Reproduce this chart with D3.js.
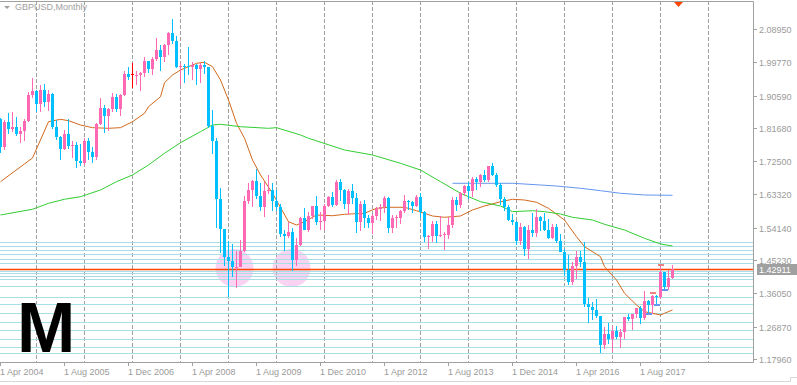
<!DOCTYPE html>
<html>
<head>
<meta charset="utf-8">
<script src="https://cdn.jsdelivr.net/npm/d3@7/dist/d3.min.js"></script>
<style>
  body { margin: 0; background: #fff; }
  svg { display: block; font-family: "Liberation Sans", Arial, sans-serif; }
</style>
</head>
<body>
<svg id="chart" width="797" height="385"></svg>
<script>
// GBPUSD monthly, Apr 2004 .. Apr 2018 (one value per month)
var symbolTitle = 'GBPUSD,Monthly';
var firstMonth = '1 Apr 2004';
var bidPrice = 1.42911;

var opens = [
   1.8405, 1.7650, 1.8340, 1.8140, 1.8190, 1.8000, 1.8095, 1.8370, 1.9080,
   1.9180, 1.8830, 1.9220, 1.8890, 1.9105, 1.8190, 1.7920, 1.7580, 1.8010, 1.7660, 1.7710, 1.7260,
   1.7210, 1.7795, 1.7500, 1.7360, 1.8270, 1.8710, 1.8490, 1.8680, 1.9030, 1.8700, 1.9080, 1.9660,
   1.9655, 1.9615, 1.9640, 1.9680, 2.0000, 1.9790, 2.0060, 2.0310, 2.0130, 2.0460, 2.0790, 2.0560,
   1.9850, 1.9880, 1.9870, 1.9850, 1.9900, 1.9790, 1.9910, 1.9840, 1.8210, 1.7800, 1.6200, 1.5380,
   1.4600, 1.4500, 1.4320, 1.4340, 1.4780, 1.6160, 1.6450, 1.6700, 1.6280, 1.5990, 1.6440, 1.6450,
   1.6150, 1.5990, 1.5230, 1.5180, 1.5290, 1.4520, 1.4950, 1.5680, 1.5340, 1.5730, 1.6020, 1.5570,
   1.5600, 1.6020, 1.6260, 1.6040, 1.6690, 1.6460, 1.6060, 1.6430, 1.6240, 1.5580, 1.6080, 1.5690,
   1.5540, 1.5750, 1.5920, 1.5990, 1.6240, 1.5420, 1.5680, 1.5680, 1.5880, 1.6160, 1.6130, 1.6020,
   1.6250, 1.5860, 1.5160, 1.5190, 1.5530, 1.5190, 1.5210, 1.5210, 1.5490, 1.6190, 1.6040, 1.6360,
   1.6560, 1.6440, 1.6750, 1.6670, 1.6880, 1.6740, 1.7110, 1.6880, 1.6600, 1.6210, 1.5990, 1.5640,
   1.5580, 1.5050, 1.5440, 1.4820, 1.5350, 1.5280, 1.5720, 1.5610, 1.5360, 1.5120, 1.5440, 1.5050,
   1.4740, 1.4240, 1.3920, 1.4370, 1.4610, 1.4480, 1.3310, 1.3230, 1.3140, 1.2980, 1.2190, 1.2480,
   1.2340, 1.2580, 1.2410, 1.2550, 1.2950, 1.2890, 1.3025, 1.3200, 1.2930, 1.3400, 1.3280, 1.3520,
   1.3510, 1.4190, 1.3770, 1.4020
];
var highs = [
   1.8440, 1.8380, 1.8590, 1.8620, 1.8480, 1.8200, 1.8420, 1.9160, 1.9550,
   1.9220, 1.9340, 1.9380, 1.9225, 1.9125, 1.8390, 1.7950, 1.8120, 1.8400, 1.7810, 1.7780, 1.7730,
   1.7880, 1.7880, 1.7640, 1.8300, 1.9000, 1.8810, 1.8730, 1.9120, 1.9100, 1.9090, 1.9730, 1.9850,
   1.9950, 1.9740, 1.9700, 2.0135, 2.0010, 2.0130, 2.0655, 2.0450, 2.0485, 2.0810, 2.1160, 2.0700,
   1.9950, 1.9920, 2.0395, 1.9990, 1.9930, 1.9950, 2.0000, 1.9860, 1.8650, 1.7880, 1.6520, 1.5390,
   1.5060, 1.4980, 1.4780, 1.5080, 1.6280, 1.6660, 1.6740, 1.7040, 1.6660, 1.6690, 1.6880, 1.6650,
   1.6460, 1.6060, 1.5360, 1.5570, 1.5400, 1.5130, 1.5720, 1.5960, 1.5840, 1.6020, 1.6300, 1.5840,
   1.6060, 1.6280, 1.6400, 1.6740, 1.6750, 1.6480, 1.6470, 1.6620, 1.6370, 1.6140, 1.6170, 1.5780,
   1.5800, 1.5990, 1.6060, 1.6300, 1.6260, 1.5780, 1.5780, 1.5910, 1.6310, 1.6180, 1.6150, 1.6310,
   1.6380, 1.5870, 1.5220, 1.5600, 1.5600, 1.5750, 1.5300, 1.5720, 1.6260, 1.6260, 1.6390, 1.6600,
   1.6670, 1.6820, 1.6820, 1.6900, 1.7000, 1.7110, 1.7190, 1.6920, 1.6650, 1.6250, 1.6030, 1.5790,
   1.5590, 1.5550, 1.5470, 1.5500, 1.5820, 1.5930, 1.5750, 1.5820, 1.5660, 1.5510, 1.5510, 1.5240,
   1.4820, 1.4670, 1.4460, 1.4770, 1.4770, 1.5020, 1.3480, 1.3370, 1.3450, 1.2990, 1.2670, 1.2780,
   1.2710, 1.2710, 1.2620, 1.2960, 1.3050, 1.3030, 1.3210, 1.3270, 1.3660, 1.3410, 1.3550, 1.3550,
   1.4345, 1.4200, 1.4245, 1.4376
];
var lows = [
   1.7475, 1.7565, 1.8010, 1.8060, 1.7935, 1.7745, 1.7820, 1.8320, 1.9000,
   1.8620, 1.8620, 1.8745, 1.8625, 1.8150, 1.7825, 1.7285, 1.7560, 1.7600, 1.7330, 1.7065, 1.7125,
   1.7145, 1.7275, 1.7200, 1.7280, 1.8240, 1.8030, 1.8090, 1.8600, 1.8600, 1.8500, 1.9050, 1.9500,
   1.9270, 1.9360, 1.9175, 1.9580, 1.9675, 1.9630, 2.0020, 1.9735, 1.9995, 2.0170, 2.0470, 1.9815,
   1.9345, 1.9400, 1.9640, 1.9500, 1.9360, 1.9400, 1.9665, 1.8170, 1.7450, 1.5400, 1.4720, 1.4360,
   1.3500, 1.4055, 1.3740, 1.4330, 1.4760, 1.6060, 1.6000, 1.6200, 1.5870, 1.5700, 1.6340, 1.5870,
   1.5880, 1.5160, 1.4780, 1.5140, 1.4230, 1.4350, 1.4900, 1.5340, 1.5300, 1.5650, 1.5500, 1.5350,
   1.5350, 1.6000, 1.5980, 1.6020, 1.6160, 1.5940, 1.5780, 1.6060, 1.5270, 1.5330, 1.5420, 1.5400,
   1.5230, 1.5640, 1.5600, 1.5810, 1.5270, 1.5270, 1.5400, 1.5520, 1.5820, 1.5910, 1.5830, 1.6000,
   1.5690, 1.5020, 1.4830, 1.5030, 1.4990, 1.5160, 1.4810, 1.5100, 1.5420, 1.5890, 1.5960, 1.6280,
   1.6220, 1.6250, 1.6460, 1.6540, 1.6690, 1.6690, 1.6850, 1.6540, 1.6050, 1.5870, 1.5590, 1.5480,
   1.4950, 1.4950, 1.4630, 1.4560, 1.5170, 1.5170, 1.5330, 1.5330, 1.5100, 1.5110, 1.4990, 1.4740,
   1.4080, 1.3840, 1.3840, 1.4010, 1.4330, 1.3220, 1.2800, 1.2860, 1.2920, 1.1950, 1.2080, 1.2200,
   1.1986, 1.2350, 1.2110, 1.2360, 1.2840, 1.2590, 1.2930, 1.2770, 1.2880, 1.3030, 1.3040, 1.3300,
   1.3460, 1.3710, 1.3710, 1.4000
];
var closes = [
   1.7650, 1.8340, 1.8140, 1.8190, 1.8000, 1.8095, 1.8370, 1.9080, 1.9180,
   1.8830, 1.9220, 1.8890, 1.9105, 1.8190, 1.7920, 1.7580, 1.8010, 1.7660, 1.7710, 1.7260, 1.7210,
   1.7795, 1.7500, 1.7360, 1.8270, 1.8710, 1.8490, 1.8680, 1.9030, 1.8700, 1.9080, 1.9660, 1.9580,
   1.9655, 1.9640, 1.9680, 2.0000, 1.9790, 2.0060, 2.0310, 2.0130, 2.0460, 2.0790, 2.0560, 1.9850,
   1.9880, 1.9870, 1.9850, 1.9900, 1.9790, 1.9910, 1.9840, 1.8210, 1.7800, 1.6200, 1.5380, 1.4600,
   1.4500, 1.4320, 1.4340, 1.4780, 1.6160, 1.6450, 1.6700, 1.6280, 1.5990, 1.6440, 1.6450, 1.6150,
   1.5990, 1.5230, 1.5180, 1.5290, 1.4520, 1.4950, 1.5680, 1.5340, 1.5730, 1.6020, 1.5570, 1.5600,
   1.6020, 1.6260, 1.6040, 1.6690, 1.6460, 1.6060, 1.6430, 1.6240, 1.5580, 1.6080, 1.5690, 1.5540,
   1.5750, 1.5920, 1.5990, 1.6240, 1.5420, 1.5680, 1.5700, 1.5880, 1.6160, 1.6130, 1.6020, 1.6250,
   1.5860, 1.5160, 1.5190, 1.5530, 1.5190, 1.5210, 1.5230, 1.5490, 1.6190, 1.6040, 1.6360, 1.6560,
   1.6440, 1.6750, 1.6670, 1.6880, 1.6740, 1.7110, 1.6880, 1.6600, 1.6210, 1.5990, 1.5640, 1.5580,
   1.5050, 1.5440, 1.4820, 1.5350, 1.5280, 1.5720, 1.5610, 1.5360, 1.5120, 1.5440, 1.5050, 1.4740,
   1.4240, 1.3920, 1.4370, 1.4610, 1.4480, 1.3310, 1.3230, 1.3140, 1.2980, 1.2190, 1.2480, 1.2340,
   1.2580, 1.2410, 1.2550, 1.2950, 1.2890, 1.3025, 1.3200, 1.2930, 1.3400, 1.3280, 1.3520, 1.3510,
   1.4190, 1.3770, 1.4020, 1.4291
];

// moving averages: [month index, price]
var maFast = [
   [0, 1.6685], [8, 1.7338], [12, 1.8339], [15, 1.8405], [17, 1.8367], [20, 1.8248], [23, 1.8174],
   [27, 1.8157], [30, 1.8174], [33, 1.8339], [36, 1.8571], [37, 1.8753], [40, 1.9028], [41, 1.9414],
   [43, 1.9627], [45, 1.9765], [49, 1.9949], [51, 1.9977], [53, 1.9856], [55, 1.9489], [57, 1.8937],
   [59, 1.8295], [61, 1.7882], [63, 1.7283], [65, 1.6870], [68, 1.6365], [72, 1.5582], [74, 1.5491],
   [76, 1.5582], [79, 1.5766], [83, 1.5747], [86, 1.5786], [91, 1.5814], [94, 1.5951], [97, 1.5979],
   [101, 1.5979], [104, 1.5885], [108, 1.5739], [111, 1.5703], [115, 1.5739], [118, 1.5905],
   [121, 1.6015], [125, 1.6133], [128, 1.6200], [131, 1.6180], [134, 1.6117], [137, 1.5951],
   [141, 1.5629], [144, 1.5168], [146, 1.4893], [150, 1.4617], [151, 1.4341], [154, 1.3974],
   [156, 1.3608], [159, 1.3285], [161, 1.3100], [165, 1.3010], [166, 1.3056], [168, 1.3148]
];
var maSlow = [
   [0, 1.5767], [8, 1.5924], [12, 1.6089], [16, 1.6200], [20, 1.6271], [25, 1.6456], [29, 1.6685],
   [33, 1.6870], [37, 1.7145], [41, 1.7468], [45, 1.7760], [50, 1.8064], [53, 1.8248], [55, 1.8267],
   [60, 1.8201], [67, 1.8157], [69, 1.8174], [75, 1.7973], [77, 1.7882], [86, 1.7559], [93, 1.7421],
   [100, 1.7192], [105, 1.7007], [110, 1.6685], [115, 1.6365], [120, 1.6133], [125, 1.6015],
   [128, 1.5858], [133, 1.5885], [136, 1.5858], [140, 1.5794], [143, 1.5703], [148, 1.5629],
   [151, 1.5510], [156, 1.5353], [161, 1.5124], [165, 1.4967], [168, 1.4912]
];
var maLong = [
   [113, 1.6641], [128, 1.6641], [135, 1.6594], [139, 1.6566], [145, 1.6503], [150, 1.6437],
   [155, 1.6365], [161, 1.6318], [168, 1.6310]
];

// horizontal support / resistance levels
var levels = [
   1.5020, 1.4910, 1.4800, 1.4680, 1.4555, 1.4430, 1.4235, 1.4155, 1.4075, 1.3990,
   1.3810, 1.3500, 1.3305, 1.3065, 1.2810, 1.2605, 1.2355, 1.2140, 1.1950
];
// swing markers: [month index, price]
var highMarks = [[163, 1.3608], [165, 1.4380]];
var lowMarks = [[162, 1.3045], [164, 1.3294], [166, 1.3699]];
// highlighted double bottom: [month index, price]
var circles = [[58.5, 1.4305], [72.75, 1.4305]];

var priceLabels = ['2.08950', '1.99770', '1.90590', '1.81680', '1.72500', '1.63320',
   '1.54140', '1.45230', '1.36050', '1.26870', '1.17960'];
var timeLabels = ['1 Apr 2004', '1 Aug 2005', '1 Dec 2006', '1 Apr 2008', '1 Aug 2009',
   '1 Dec 2010', '1 Apr 2012', '1 Aug 2013', '1 Dec 2014', '1 Apr 2016', '1 Aug 2017'];
var bigLetter = 'M';

var svg = d3.select('#chart');

var plot = {left: 0, top: 1, right: 753, bottom: 362};
var barStep = 4;

var parseDay = d3.timeParse('%d %b %Y');
var start = parseDay(firstMonth);
var monthIndex = function (label) {
   return d3.timeMonth.count(start, parseDay(label));
};

// month index -> pixel column of the candle centre
var x = d3.scaleLinear().domain([0, 1]).range([0, barStep]);
var y = d3.scaleLinear().domain([1.17960, 2.08950]).range([359, 29]);

var bars = opens.map(function (o, i) {
   return {i: i, o: o, h: highs[i], l: lows[i], c: closes[i]};
});

svg.append('defs').append('clipPath').attr('id', 'plotclip')
   .append('rect')
   .attr('x', plot.left).attr('y', plot.top + 0.5)
   .attr('width', plot.right - plot.left).attr('height', plot.bottom - plot.top - 0.5);

var content = svg.append('g').attr('clip-path', 'url(#plotclip)');

// highlight circles
content.selectAll('.hl').data(circles).enter().append('circle')
   .attr('cx', function (d) { return x(d[0]) + 0.5; })
   .attr('cy', function (d) { return y(d[1]); })
   .attr('r', 19)
   .attr('fill', '#fad3f2');

// yearly dashed grid
var yearStarts = d3.timeYear.range(d3.timeYear.ceil(start), new Date(2019, 1, 1));
content.selectAll('.grid').data(yearStarts).enter().append('line')
   .attr('x1', function (d) { return Math.round(x(d3.timeMonth.count(start, d))) + 0.5; })
   .attr('x2', function (d) { return Math.round(x(d3.timeMonth.count(start, d))) + 0.5; })
   .attr('y1', plot.top).attr('y2', plot.bottom)
   .attr('stroke', '#a0a0a0')
   .attr('stroke-dasharray', '4,2');

// support / resistance lines
content.selectAll('.level').data(levels).enter().append('line')
   .attr('x1', plot.left).attr('x2', plot.right)
   .attr('y1', function (d) { return Math.round(y(d)) + 0.5; })
   .attr('y2', function (d) { return Math.round(y(d)) + 0.5; })
   .attr('stroke', '#a6e0e6');

// bid line
content.append('line')
   .attr('x1', plot.left).attr('x2', plot.right)
   .attr('y1', Math.round(y(bidPrice)) + 0.5).attr('y2', Math.round(y(bidPrice)) + 0.5)
   .attr('stroke', '#ff4500').attr('stroke-width', 1.5);

// moving averages
var maLine = d3.line()
   .x(function (d) { return x(d[0]) + 0.5; })
   .y(function (d) { return y(d[1]); });

[[maFast, '#d2691e'], [maSlow, '#32cd32'], [maLong, '#6495ed']].forEach(function (m) {
   content.append('path')
      .attr('d', maLine(m[0]))
      .attr('fill', 'none')
      .attr('stroke', m[1])
      .attr('stroke-width', 1);
});

// candles
var upColor = '#ff69b4', downColor = '#00bfff', dojiColor = '#ff0000';
var colorOf = function (d) {
   return d.c > d.o ? upColor : (d.c < d.o ? downColor : dojiColor);
};

var candle = content.selectAll('.candle').data(bars).enter().append('g')
   .attr('class', 'candle');

candle.append('line')
   .attr('x1', function (d) { return x(d.i) + 0.5; })
   .attr('x2', function (d) { return x(d.i) + 0.5; })
   .attr('y1', function (d) { return Math.round(y(d.h)); })
   .attr('y2', function (d) { return Math.round(y(d.l)); })
   .attr('stroke', colorOf);

candle.append('rect')
   .attr('x', function (d) { return x(d.i) - 1; })
   .attr('width', 3)
   .attr('y', function (d) { return Math.round(y(Math.max(d.o, d.c))); })
   .attr('height', function (d) {
      return Math.max(1, Math.round(y(Math.min(d.o, d.c))) - Math.round(y(Math.max(d.o, d.c))));
   })
   .attr('fill', colorOf);

// swing markers
content.selectAll('.hm').data(highMarks).enter().append('rect')
   .attr('x', function (d) { return x(d[0]) - 2; })
   .attr('y', function (d) { return Math.round(y(d[1])) - 1; })
   .attr('width', 6).attr('height', 2)
   .attr('fill', '#f08080');
content.selectAll('.lm').data(lowMarks).enter().append('rect')
   .attr('x', function (d) { return x(d[0]) - 2; })
   .attr('y', function (d) { return Math.round(y(d[1])) - 1; })
   .attr('width', 6).attr('height', 2)
   .attr('fill', '#6495ed');

// frame
var frameColor = '#a0a0a0';
svg.append('path')
   .attr('d', 'M' + plot.left + ',' + (plot.top + 0.5) + 'H' + (plot.right + 0.5) +
      'V' + (plot.bottom + 0.5) + 'H' + plot.left)
   .attr('fill', 'none').attr('stroke', frameColor);

// price axis
var priceAxis = svg.append('g').attr('class', 'axis axis--y');
priceAxis.selectAll('line').data(priceLabels).enter().append('line')
   .attr('x1', plot.right + 1).attr('x2', plot.right + 4)
   .attr('y1', function (d) { return Math.round(y(+d)) + 0.5; })
   .attr('y2', function (d) { return Math.round(y(+d)) + 0.5; })
   .attr('stroke', frameColor);
priceAxis.selectAll('text').data(priceLabels).enter().append('text')
   .attr('x', plot.right + 6)
   .attr('y', function (d) { return Math.round(y(+d)) + 0.5; })
   .attr('dy', '0.35em')
   .attr('font-size', 9)
   .attr('fill', '#9a9a9a')
   .text(function (d) { return d; });

// bid label
var bidY = Math.round(y(bidPrice));
svg.append('rect')
   .attr('x', plot.right + 4).attr('y', bidY - 5)
   .attr('width', 797 - plot.right - 4).attr('height', 11)
   .attr('fill', '#a0a0a0');
svg.append('text')
   .attr('x', plot.right + 6).attr('y', bidY + 0.5)
   .attr('dy', '0.35em')
   .attr('font-size', 9)
   .attr('fill', '#fff')
   .text(bidPrice.toFixed(5));

// time axis
var timeAxis = svg.append('g').attr('class', 'axis axis--x');
timeAxis.selectAll('line').data(timeLabels).enter().append('line')
   .attr('x1', function (d) { return x(monthIndex(d)) + 0.5; })
   .attr('x2', function (d) { return x(monthIndex(d)) + 0.5; })
   .attr('y1', plot.bottom).attr('y2', plot.bottom + 4)
   .attr('stroke', frameColor);
timeAxis.selectAll('text').data(timeLabels).enter().append('text')
   .attr('x', function (d) { return x(monthIndex(d)); })
   .attr('y', plot.bottom + 10)
   .attr('dy', '0.35em')
   .attr('font-size', 9)
   .attr('fill', '#9a9a9a')
   .text(function (d) { return d; });

// window edge at the bottom
svg.append('path')
   .attr('d', 'M0,381.5H790.5V377.5H797')
   .attr('fill', 'none').attr('stroke', '#d8d8d8');

// title
svg.append('path')
   .attr('d', 'M4,6H10L7,9Z')
   .attr('fill', '#a0a0a0');
svg.append('text')
   .attr('x', 15).attr('y', 9)
   .attr('dy', '0.1em')
   .attr('font-size', 9)
   .attr('fill', '#a0a0a0')
   .text(symbolTitle);

// shift marker
svg.append('path')
   .attr('d', 'M674,2H683L678.5,7Z')
   .attr('fill', '#ff4500');

svg.append('text')
   .attr('x', 17).attr('y', 352)
   .attr('font-size', 70)
   .attr('font-weight', 'bold')
   .attr('fill', '#000')
   .text(bigLetter);
</script>
</body>
</html>
